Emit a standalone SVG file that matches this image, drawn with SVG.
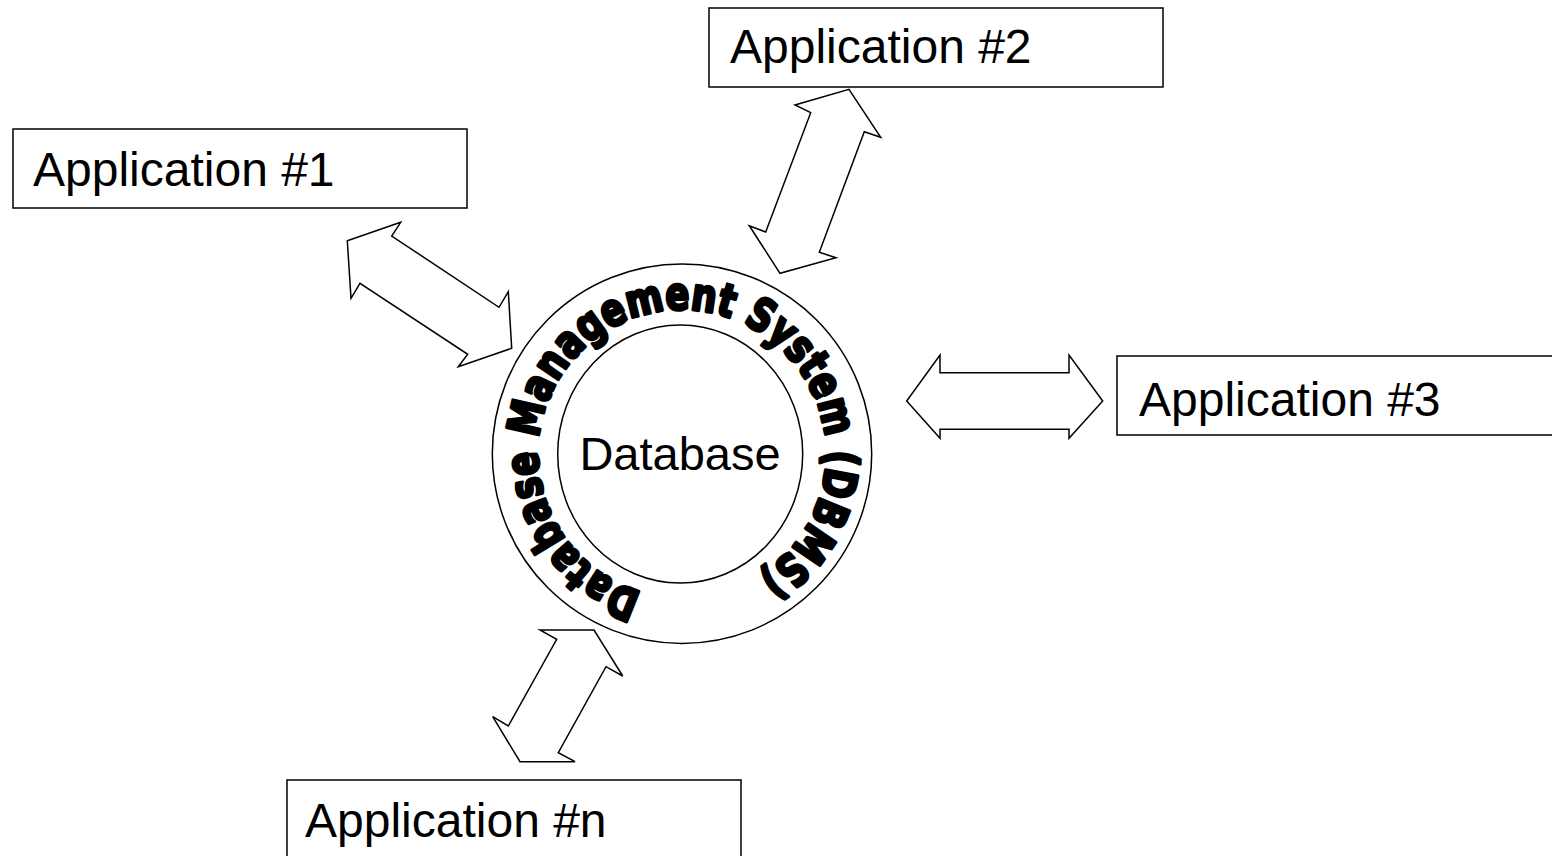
<svg xmlns="http://www.w3.org/2000/svg" width="1552" height="856" viewBox="0 0 1552 856">
<style>
.box{fill:#fff;stroke:#000;stroke-width:1.5}
.lbl{font-family:"Liberation Sans",Arial,sans-serif;font-size:48px;fill:#000}
.arr{fill:#fff;stroke:#000;stroke-width:1.5;stroke-linejoin:miter}
.ring{fill:#fff;stroke:#000;stroke-width:1.5}
.ringtxt{font-family:"DejaVu Sans",Verdana,sans-serif;font-weight:bold;font-size:45px;fill:#000;stroke:#000;stroke-width:3.2;stroke-linejoin:round}
</style>
<defs>
<path id="ringPath" d="M 642.3 592.1 A 144 144 0 1 1 751.8 579.6"/>
</defs>
<rect width="1552" height="856" fill="#fff"/>
<g id="connectors">
<polygon class="arr" points="347.3,240.7 400.7,222.3 391.7,236 499,307.3 508.3,291.7 511.7,348.3 458.3,366.7 467.7,354.3 360,283.3 351,298.3"/>
<polygon class="arr" points="849,89.3 880.7,137.3 864.3,131.7 819.3,252.3 836,257.7 780,273.3 749.3,225.7 765.7,232 810.7,112.7 795,105"/>
<polygon class="arr" points="906.7,401 940,355 940,372.7 1069,372.7 1069,355 1102.7,401 1069,438.3 1069,429.3 940,429.3 940,438.3"/>
<polygon class="arr" points="540,630 594,630 622.7,676 606,666.7 558.3,752.7 575,761.7 520,761.7 492.7,716.7 508.3,726 556.7,639.3"/>
</g>
<g id="dbms">
<circle class="ring" cx="682" cy="453.7" r="189.7"/>
<text class="ringtxt"><textPath href="#ringPath" textLength="784" lengthAdjust="spacingAndGlyphs">Database Management System (DBMS)</textPath></text>
</g>
<g id="database">
<ellipse class="ring" cx="680.2" cy="454" rx="122.5" ry="129"/>
<text class="lbl" x="680" y="470" text-anchor="middle" style="font-size:47px">Database</text>
</g>
<g id="app1">
<rect class="box" x="13" y="129" width="454" height="79"/>
<text class="lbl" x="33" y="186">Application #1</text>
</g>
<g id="app2">
<rect class="box" x="709" y="8" width="454" height="79"/>
<text class="lbl" x="730" y="63">Application #2</text>
</g>
<g id="app3">
<rect class="box" x="1117" y="356" width="454" height="79"/>
<text class="lbl" x="1139" y="416">Application #3</text>
</g>
<g id="appn">
<rect class="box" x="287" y="780" width="454" height="79"/>
<text class="lbl" x="305" y="837">Application #n</text>
</g>
</svg>
